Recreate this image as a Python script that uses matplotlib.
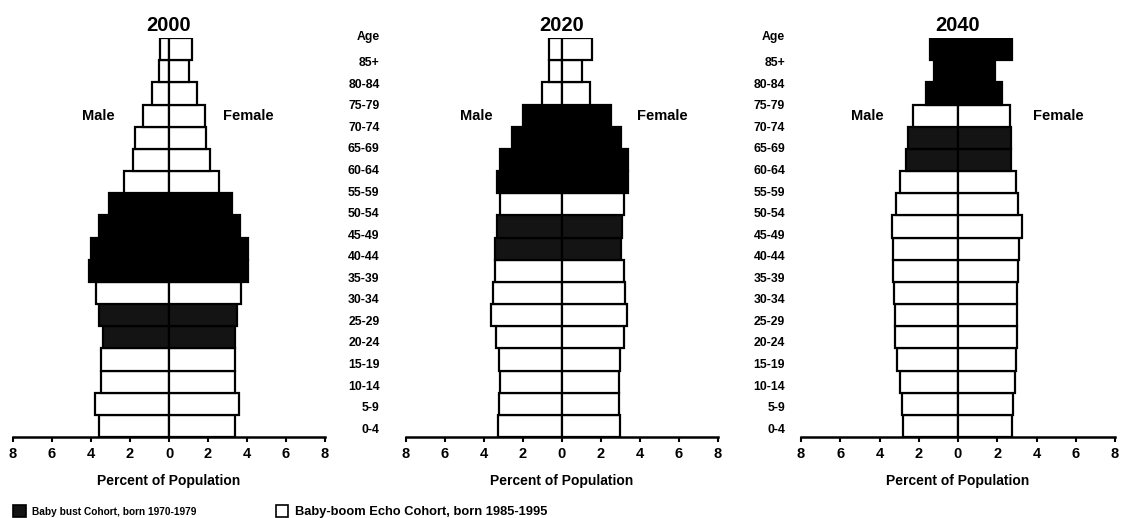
import numpy as np
import matplotlib
matplotlib.use("Agg")
import matplotlib.pyplot as plt
import matplotlib.transforms as mtransforms
from matplotlib.patches import Patch

plt.rcParams['font.family'] = ['Liberation Sans', 'DejaVu Sans']
plt.rcParams['font.weight'] = 'bold'

# ---------------- data ----------------
age_groups = ['0-4', '5-9', '10-14', '15-19', '20-24', '25-29', '30-34', '35-39',
              '40-44', '45-49', '50-54', '55-59', '60-64', '65-69', '70-74',
              '75-79', '80-84', '85+']
age_start = [0, 5, 10, 15, 20, 25, 30, 35, 40, 45, 50, 55, 60, 65, 70, 75, 80, 85]
years = [2000, 2020, 2040]

male_2000 = [3.57, 3.79, 3.5, 3.5, 3.37, 3.57, 3.74, 4.08, 4.02, 3.57, 3.08, 2.31,
             1.83, 1.74, 1.35, 0.89, 0.51, 0.46]
female_2000 = [3.38, 3.59, 3.38, 3.38, 3.38, 3.5, 3.67, 4.07, 4.07, 3.64, 3.25, 2.56,
               2.1, 1.88, 1.83, 1.42, 1.03, 1.16]
male_2020 = [3.26, 3.23, 3.2, 3.23, 3.4, 3.66, 3.54, 3.44, 3.44, 3.32, 3.2, 3.32,
             3.2, 2.58, 2.0, 1.04, 0.67, 0.67]
female_2020 = [2.96, 2.92, 2.92, 2.96, 3.18, 3.35, 3.23, 3.18, 3.0, 3.06, 3.18, 3.4,
               3.4, 3.01, 2.5, 1.42, 1.04, 1.52]
male_2040 = [2.82, 2.87, 2.96, 3.1, 3.21, 3.21, 3.27, 3.3, 3.33, 3.38, 3.16, 2.96,
             2.67, 2.53, 2.31, 1.63, 1.22, 1.43]
female_2040 = [2.74, 2.82, 2.91, 2.96, 2.99, 3.03, 3.03, 3.08, 3.13, 3.25, 3.08, 2.96,
               2.69, 2.69, 2.65, 2.23, 1.89, 2.74]

males = [male_2000, male_2020, male_2040]
females = [female_2000, female_2020, female_2040]

x_ticks = [-8, -6, -4, -2, 0, 2, 4, 6, 8]
x_tick_labels = ['8', '6', '4', '2', '0', '2', '4', '6', '8']

boom_years = (1946, 1965)
bust_years = (1971, 1980)
legend_labels = ['Baby bust Cohort, born 1970-1979', 'Baby-boom Echo Cohort, born 1985-1995']

# ---------------- style ----------------
BOOM = '#000000'
BUST = '#141414'
OTHER = '#ffffff'

fig = plt.figure(figsize=(11.21, 5.18), dpi=100)

W, H = 1121.0, 518.0
panel_px = [(13, 325), (406, 718), (801, 1115)]
axis_y_px = 437
top_px = 38
male_label_x = [-2.8, -3.55, -3.8]
female_label_x = [2.75, 3.85, 3.8]
label_pad = [None, 19, 11.5]

ypos = np.arange(len(age_groups))
label_y = -0.1 + ypos * 0.9724

for k, yr in enumerate(years):
    x0, x1 = panel_px[k]
    ax = fig.add_axes([x0 / W, (H - axis_y_px) / H, (x1 - x0) / W, (axis_y_px - top_px) / H])
    births = [yr - a - 2 for a in age_start]
    cols = []
    for b in births:
        if boom_years[0] <= b <= boom_years[1]:
            cols.append(BOOM)
        elif bust_years[0] <= b <= bust_years[1]:
            cols.append(BUST)
        else:
            cols.append(OTHER)
    ax.barh(ypos, -np.array(males[k]), height=1.0, color=cols, edgecolor='black',
            linewidth=1.6, zorder=2)
    ax.barh(ypos, np.array(females[k]), height=1.0, color=cols, edgecolor='black',
            linewidth=1.6, zorder=2)
    ax.set_xlim(-8, 8)
    ax.set_ylim(-0.5, 17.5)
    for s in ['top', 'right', 'left']:
        ax.spines[s].set_visible(False)
    ax.spines['bottom'].set_linewidth(1.8)
    ax.set_xticks(x_ticks)
    ax.set_xticklabels(x_tick_labels, fontsize=10.5, fontweight='bold')
    ax.tick_params(axis='x', direction='out', length=3.5, width=1.5, pad=4)
    ax.set_xlabel('Percent of Population', fontsize=10, fontweight='bold', labelpad=9)
    ax.set_title(str(yr), fontsize=14.5, fontweight='bold', pad=5)
    ax.text(male_label_x[k], 14, 'Male', ha='right', va='center', fontsize=10.5,
            fontweight='bold')
    ax.text(female_label_x[k], 14, 'Female', ha='left', va='center', fontsize=10.5,
            fontweight='bold')
    if label_pad[k] is None:
        ax.set_yticks([])
    else:
        ax.set_yticks(label_y)
        ax.set_yticklabels(age_groups, fontsize=8.8, fontweight='bold')
        ax.tick_params(axis='y', length=0, pad=label_pad[k])
        ax.text(-8, 17.55, 'Age', ha='right', va='center', fontsize=8.8, fontweight='bold',
                transform=ax.transData + mtransforms.ScaledTranslation(
                    -label_pad[k] / 72.0, 0, fig.dpi_scale_trans))

handles = [Patch(facecolor=BUST, edgecolor='black', linewidth=1.2),
           Patch(facecolor=OTHER, edgecolor='black', linewidth=1.2)]
leg = fig.legend(handles, legend_labels, ncol=2, loc='lower left',
                 bbox_to_anchor=(0.0065, -0.01), frameon=False, fontsize=8,
                 handlelength=1.15, handleheight=1.2, handletextpad=0.6,
                 columnspacing=7.1, borderaxespad=0.2, borderpad=0.3)
leg.get_texts()[0].set_fontsize(7.3)
leg.get_texts()[1].set_fontsize(9.3)

fig.savefig('out.png', dpi=100)
